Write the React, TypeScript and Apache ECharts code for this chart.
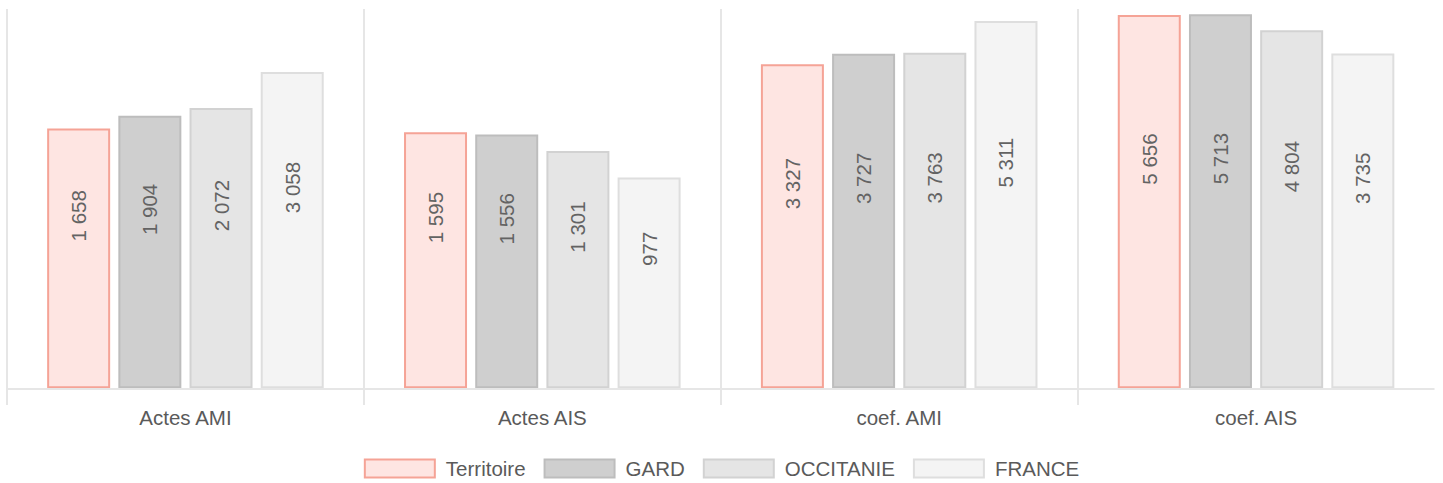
import React, { useEffect, useRef } from "react";
import * as echarts from "echarts";

const categories = ["Actes AMI", "Actes AIS", "coef. AMI", "coef. AIS"];
const seriesNames = ["Territoire", "GARD", "OCCITANIE", "FRANCE"];
const territoire = [1658, 1595, 3327, 5656];
const gard = [1904, 1556, 3727, 5713];
const occitanie = [2072, 1301, 3763, 4804];
const france = [3058, 977, 5311, 3735];

const fills = ["#fee5e2", "#cfcfcf", "#e5e5e5", "#f4f4f4"];
const borders = ["#f5a396", "#bdbdbd", "#d2d2d2", "#dedede"];

const fmt = (v: number) => String(v).replace(/\B(?=(\d{3})+(?!\d))/g, " ");

export default function App() {
  const ref = useRef<HTMLDivElement>(null);
  useEffect(() => {
    document.body.style.margin = "0";
    if (!ref.current) return;
    const chart = echarts.init(ref.current, undefined, { renderer: "svg" });
    const values = [territoire, gard, occitanie, france];
    const series: any[] = values.map((data, i) => ({
      name: seriesNames[i],
      type: "bar",
      data,
      barWidth: 63,
      barGap: "13%",
      itemStyle: { color: fills[i], borderColor: borders[i], borderWidth: 2 },
      label: {
        show: true,
        position: "inside",
        rotate: 90,
        align: "left",
        verticalAlign: "middle",
        offset: [17, 0],
        formatter: (p: any) => fmt(p.value),
        color: "#636363",
        fontSize: 20.5,
        fontFamily: "Liberation Sans, Arial, sans-serif",
      },
    }));
    series[0].markLine = {
      silent: true,
      symbol: "none",
      label: { show: false },
      lineStyle: { color: "#e6e6e6", type: "solid", width: 2 },
      data: [{ yAxis: 100 }],
    };
    chart.setOption({
      animation: false,
      grid: { left: 7, right: 8.5, top: 9, bottom: 78 },
      legend: {
        data: seriesNames,
        left: "center",
        top: 458,
        padding: 0,
        itemWidth: 70,
        itemHeight: 18,
        itemGap: 18,
        icon: "rect",
        textStyle: {
          color: "#5a5a5a",
          fontSize: 20.5,
          fontFamily: "Liberation Sans, Arial, sans-serif",
          padding: [0, 0, 0, 6],
        },
      },
      xAxis: {
        type: "category",
        data: categories,
        axisLine: { show: false },
        axisTick: { show: false },
        splitLine: { show: true, showMaxLine: false, lineStyle: { color: "#e6e6e6", width: 2 } },
        axisLabel: {
          color: "#5a5a5a",
          fontSize: 20.5,
          fontFamily: "Liberation Sans, Arial, sans-serif",
          margin: 2,
        },
      },
      yAxis: {
        type: "log",
        min: 83.5,
        max: 6040,
        startValue: 100,
        show: false,
        splitLine: { show: false },
      },
      series,
    });
    return () => chart.dispose();
  }, []);
  return <div ref={ref} style={{ width: 1443, height: 483 }} />;
}
